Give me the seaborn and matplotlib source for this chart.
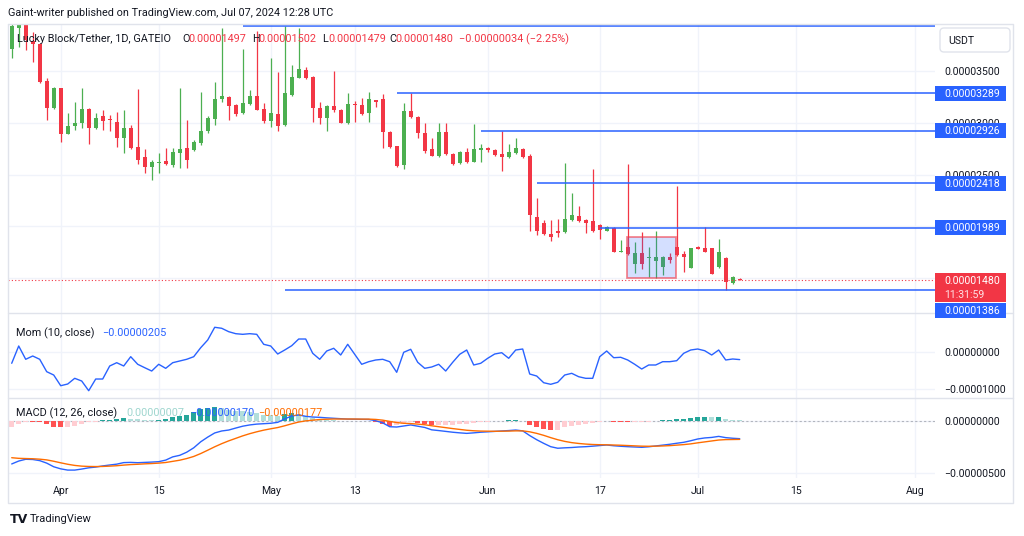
import numpy as np
import pandas as pd
import matplotlib
matplotlib.use("Agg")
import matplotlib.pyplot as plt
import matplotlib.dates as mdates
from matplotlib.patches import Rectangle, FancyBboxPatch
from matplotlib.ticker import FuncFormatter, FixedLocator
import seaborn as sns

# ---------------- data (prices and indicator values in units of 1e-8 USDT) ----------------
UNIT = 1e-8
first_day = "2024-03-25"

opens = [3714, 3917, 3950, 3791, 3762, 3405, 3144, 3337, 2893, 2970,
         2999, 3134, 2951, 3067, 3038, 3009, 2854, 2951, 2767, 2671,
         2574, 2613, 2632, 2593, 2709, 2758, 2738, 2806, 2922, 3038,
         3231, 3250, 3173, 3096, 3183, 3260, 3134, 3018, 3086, 2980,
         3270, 3434, 3511, 3444, 3144, 3047, 3163, 3125, 2999, 3183,
         3173, 3096, 3221, 3231, 2912, 2777, 2593, 3115, 3057, 2903,
         2748, 2680, 2912, 2700, 2613, 2719, 2622, 2738, 2758, 2738,
         2700, 2671, 2709, 2748, 2680, 2091, 2033, 1927, 1956, 1946,
         2062, 2101, 2062, 2053, 2014, 1956, 1985, 1753, 1801, 1637,
         1743, 1695, 1666, 1608, 1705, 1801, 1734, 1598, 1801, 1792,
         1792, 1608, 1695, 1454, 1497]
highs = [3990, 3990, 3975, 3878, 3772, 3434, 3347, 3337, 3096, 3202,
         3337, 3144, 3096, 3125, 3076, 3105, 3125, 2980, 3328, 2748,
         2642, 2709, 2758, 2758, 3337, 3028, 2835, 3299, 3067, 3395,
         3917, 3260, 3183, 3714, 3318, 3888, 3192, 3627, 3492, 3936,
         3559, 3917, 3540, 3453, 3202, 3173, 3501, 3134, 3289, 3212,
         3241, 3299, 3225, 3279, 2922, 2777, 3192, 3289, 3067, 2999,
         2854, 2999, 2999, 2709, 2729, 2758, 2990, 2796, 2770, 2748,
         2926, 2796, 2854, 2758, 2700, 2275, 2062, 2062, 2072, 2613,
         2323, 2197, 2072, 2555, 2024, 2004, 1995, 1869, 2603, 1850,
         1946, 1801, 1956, 1714, 1743, 2391, 1763, 1795, 1811, 1995,
         1795, 1879, 1705, 1521, 1502]
lows = [3627, 3733, 3704, 3588, 3386, 3028, 3134, 2816, 2893, 2932,
        2951, 2796, 2941, 2932, 2922, 2770, 2709, 2748, 2603, 2516,
        2449, 2516, 2593, 2574, 2564, 2564, 2729, 2787, 2903, 2980,
        3202, 3028, 3067, 3086, 3173, 3125, 2999, 2961, 2922, 2970,
        3260, 3434, 3424, 3009, 2990, 2922, 3105, 2995, 2990, 3009,
        3076, 3009, 3154, 2758, 2762, 2574, 2555, 3050, 2854, 2709,
        2676, 2671, 2690, 2593, 2603, 2613, 2622, 2622, 2722, 2680,
        2536, 2661, 2700, 2661, 1956, 1917, 1917, 1859, 1898, 1937,
        2053, 2043, 1937, 1946, 1879, 1956, 1750, 1750, 1724, 1550,
        1589, 1512, 1502, 1531, 1647, 1714, 1560, 1595, 1780, 1750,
        1538, 1598, 1386, 1444, 1479]
closes = [3935, 3946, 3801, 3762, 3395, 3144, 3337, 2893, 2970, 3002,
          3134, 2951, 3047, 3018, 3028, 2854, 2951, 2758, 2642, 2574,
          2622, 2622, 2603, 2719, 2748, 2642, 2818, 2922, 3047, 3231,
          3260, 3163, 3086, 3192, 3260, 3125, 3018, 3096, 2970, 3289,
          3444, 3521, 3434, 3144, 3047, 3163, 3125, 2999, 3183, 3173,
          3086, 3231, 3206, 2912, 2767, 2584, 3115, 3057, 2903, 2729,
          2680, 2912, 2700, 2603, 2719, 2622, 2748, 2758, 2738, 2690,
          2671, 2719, 2758, 2671, 2110, 1956, 1927, 1898, 1937, 2072,
          2110, 2053, 2033, 1956, 1966, 1995, 1753, 1763, 1734, 1743,
          1637, 1705, 1705, 1705, 1676, 1724, 1705, 1792, 1782, 1753,
          1541, 1753, 1463, 1512, 1480]
mom = [-305, 162, -197, -108, -197, -532, -622, -911, -865, -711,
       -784, -1046, -730, -730, -378, -289, -378, -127, -332, -424,
       -514, -332, -441, -289, -243, -197, -127, 116, 324, 668,
       641, 549, 495, 478, 495, 478, 208, 162, -54, 54,
       170, 351, 351, -35, -197, 27, 100, -81, 208, -62,
       -332, -262, -216, -197, -262, -549, -8, 73, -278, -441,
       -405, -332, -514, -278, -62, 54, -351, -305, -170, -54,
       -19, -170, 54, 81, -595, -649, -830, -873, -819, -622,
       -576, -668, -711, -711, -127, 27, -154, -143, -216, -332,
       -460, -351, -351, -262, -262, -235, -35, 54, 81, 35,
       -81, 54, -216, -189, -205]
macd = [-413, -385, -368, -370, -381, -405, -440, -460, -472, -472,
        -462, -450, -443, -432, -423, -415, -400, -398, -401, -398,
        -395, -391, -376, -345, -330, -300, -258, -200, -155, -115,
        -96, -87, -68, -50, -38, -30, -26, -22, -13, 20,
        48, 58, 45, 38, 35, 30, 26, 22, 18, 17,
        16, 15, 3, -18, -55, -58, -48, -38, -50, -62,
        -85, -92, -100, -108, -114, -119, -114, -108, -104, -100,
        -96, -92, -87, -95, -140, -180, -215, -247, -262, -258,
        -255, -250, -247, -242, -236, -231, -238, -243, -247, -250,
        -253, -248, -240, -232, -224, -214, -205, -190, -173, -163,
        -158, -148, -160, -166, -170]
signal = [-353, -359, -361, -363, -367, -374, -387, -402, -416, -427,
          -434, -437, -438, -437, -434, -430, -424, -419, -416, -412,
          -409, -405, -399, -388, -377, -361, -341, -313, -281, -248,
          -218, -191, -167, -143, -122, -104, -88, -75, -63, -46,
          -27, -10, 1, 8, 14, 17, 19, 19, 19, 19,
          18, 18, 15, 8, -4, -15, -22, -25, -30, -36,
          -46, -55, -64, -73, -81, -89, -94, -97, -98, -99,
          -98, -97, -95, -95, -104, -119, -138, -160, -180, -196,
          -208, -216, -222, -226, -228, -229, -231, -233, -236, -239,
          -242, -243, -242, -240, -237, -232, -227, -220, -210, -201,
          -192, -183, -179, -178, -177]

tick_dates = ["2024-04-01", "2024-04-15", "2024-05-01", "2024-05-13", "2024-06-01",
              "2024-06-17", "2024-07-01", "2024-07-15", "2024-08-01"]
tick_labels = ["Apr", "15", "May", "13", "Jun", "17", "Jul", "15", "Aug"]
price_ticks = [1500, 2000, 2500, 3000, 3500]
mom_ticks = [0, -1000]
macd_ticks = [0, -500]

ray_levels = [3940, 3289, 2926, 2418, 1989, 1386]
ray_starts = ["2024-04-27", "2024-05-19", "2024-05-31", "2024-06-08", "2024-06-17", "2024-05-03"]
ray_tags = [None, "0.00003289", "0.00002926", "0.00002418", "0.00001989", "0.00001386"]
rect_start, rect_end = "2024-06-20 20:40", "2024-06-27 21:30"
rect_top, rect_bottom = 1901, 1499
last_price = 1480
countdown = "11:31:59"

header = "Gaint-writer published on TradingView.com, Jul 07, 2024 12:28 UTC"
symbol = "Lucky Block/Tether, 1D, GATEIO"
ohlc_tags = [("O", "0.00001497"), ("H", "0.00001502"), ("L", "0.00001479"), ("C", "0.00001480")]
change_tag = "\u22120.00000034 (\u22122.25%)"

# ---------------- style ----------------
sns.set_theme(style="white")
plt.rcParams["font.family"] = ["Roboto", "DejaVu Sans"]
FS = 7.6
TXT = "#131722"
GREEN, RED = "#4caf50", "#f23645"
BLUE, ORANGE = "#2962ff", "#ff6d00"
GRID, BORDER = "#f0f3fa", "#e0e3eb"

df = pd.DataFrame({"date": pd.date_range(first_day, periods=len(closes), freq="D"),
                   "open": opens, "high": highs, "low": lows, "close": closes,
                   "mom": mom, "macd": macd, "signal": signal})
for c in ["open", "high", "low", "close", "mom", "macd", "signal"]:
    df[c] = df[c] * UNIT
df["x"] = mdates.date2num(df["date"])
df["hist"] = df["macd"] - df["signal"]

W, H = 1024, 536
fig = plt.figure(figsize=(W / 100, H / 100), dpi=100)
fig.patch.set_facecolor("white")


def px_axes(x0, y0, x1, y1):
    return fig.add_axes([x0 / W, 1 - y1 / H, (x1 - x0) / W, (y1 - y0) / H])


ax_p = px_axes(8, 24, 935, 313)
ax_m = px_axes(8, 313, 935, 398)
ax_d = px_axes(8, 398, 935, 478)

apr1 = mdates.date2num(pd.Timestamp("2024-04-01"))
xl, xr = apr1 - 7.53, apr1 + 124.9
tick_x = mdates.date2num(pd.to_datetime(tick_dates))


def fmt(v, pos=None):
    s = f"{abs(v):.8f}"
    return ("\u2212" + s) if v < -1e-14 else s


for ax in (ax_p, ax_m, ax_d):
    ax.set_xlim(xl, xr)
    ax.set_facecolor("white")
    for sp in ax.spines.values():
        sp.set_visible(False)
    ax.xaxis.set_major_locator(FixedLocator(tick_x))
    ax.grid(True, color=GRID, lw=1)
    ax.set_axisbelow(True)
    ax.yaxis.tick_right()
    ax.yaxis.set_major_formatter(FuncFormatter(fmt))
    ax.tick_params(axis="y", length=0, pad=6.5, labelsize=FS, labelcolor=TXT)
    ax.tick_params(axis="x", length=0, labelbottom=False)
    ax.set_xlabel("")
    ax.set_ylabel("")

ax_p.set_ylim(1163.8 * UNIT, 3955.6 * UNIT)
ax_p.yaxis.set_major_locator(FixedLocator([v * UNIT for v in price_ticks]))
ax_m.set_ylim(-1.243e-5, 1.054e-5)
ax_m.yaxis.set_major_locator(FixedLocator([v * UNIT for v in mom_ticks]))
ax_d.set_ylim(-5.48e-6, 2.21e-6)
ax_d.yaxis.set_major_locator(FixedLocator([v * UNIT for v in macd_ticks]))
ax_d.set_xticks(tick_x)
ax_d.set_xticklabels(tick_labels)
ax_d.tick_params(axis="x", labelbottom=True, pad=5.5, labelsize=FS, labelcolor=TXT)

# ---------------- candles ----------------
up = (df["close"] >= df["open"]).values
cols = np.where(up, GREEN, RED)
ax_p.vlines(df["x"], df["low"], df["high"], colors=cols, lw=0.9, zorder=2)
raw_h = (df["close"] - df["open"]).abs()
body_h = np.maximum(raw_h, 9 * UNIT)
body_b = np.minimum(df["open"], df["close"]) - (body_h - raw_h) / 2
ax_p.bar(df["x"], body_h, bottom=body_b, width=0.62, color=cols, linewidth=0, zorder=3)

# drawings
for lvl, st in zip(ray_levels, ray_starts):
    ax_p.hlines(lvl * UNIT, mdates.date2num(pd.Timestamp(st)), xr, color=BLUE, lw=1.1, zorder=4)
rs, re_ = mdates.date2num(pd.Timestamp(rect_start)), mdates.date2num(pd.Timestamp(rect_end))
ax_p.add_patch(Rectangle((rs, rect_bottom * UNIT), re_ - rs, (rect_top - rect_bottom) * UNIT,
                         facecolor=(0.16, 0.38, 1.0, 0.2), edgecolor=(0.95, 0.21, 0.27, 0.6),
                         lw=1.3, zorder=4))
ax_p.axhline(last_price * UNIT, color=RED, lw=0.8, ls=(0, (1, 2)), zorder=4)

# ---------------- momentum ----------------
sns.lineplot(data=df, x="x", y="mom", ax=ax_m, color=BLUE, lw=1.0, legend=False)
ax_m.set_xlabel(""); ax_m.set_ylabel("")

# ---------------- MACD ----------------
hist = df["hist"].values
prev = np.concatenate([[hist[0]], hist[:-1]])
hcols = np.where(hist >= 0, np.where(hist > prev, "#26a69a", "#b2dfdb"),
                 np.where(hist < prev, "#ff5252", "#ffcdd2"))
ax_d.bar(df["x"], hist, width=0.75, color=hcols, linewidth=0, zorder=2)
ax_d.axhline(0, color="#b2b5be", lw=0.8, ls=(0, (2, 2)), zorder=1)
sns.lineplot(data=df, x="x", y="macd", ax=ax_d, color=BLUE, lw=1.0, legend=False)
sns.lineplot(data=df, x="x", y="signal", ax=ax_d, color=ORANGE, lw=1.0, legend=False)
ax_d.set_xlabel(""); ax_d.set_ylabel("")
ax_d.set_xticks(tick_x)
ax_d.set_xticklabels(tick_labels)
ax_d.tick_params(axis="x", labelbottom=True, pad=5.5, labelsize=FS, labelcolor=TXT, length=0)

# ---------------- overlay (texts, frames, price tags) ----------------
ov = fig.add_axes([0, 0, 1, 1], zorder=10)
ov.set_xlim(0, W); ov.set_ylim(H, 0); ov.axis("off")

ov.plot([8, 1013, 1013, 8, 8], [24, 24, 503, 503, 24], color=BORDER, lw=1)
ov.plot([8, 1013], [313, 313], color=BORDER, lw=1)
ov.plot([8, 1013], [398, 398], color=BORDER, lw=1)

ov.text(8, 13, header, fontsize=FS + 0.2, color=TXT, va="center", ha="left")
ov.text(17, 39, symbol, fontsize=FS + 0.2, color=TXT, va="center", ha="left")
xs = [182, 252, 322, 389]
for (k, v), x0 in zip(ohlc_tags, xs):
    ov.text(x0, 39, k, fontsize=FS + 0.2, color=TXT, va="center", ha="left")
    ov.text(x0 + 6.5, 39, v, fontsize=FS + 0.2, color=RED, va="center", ha="left")
ov.text(459, 39, change_tag, fontsize=FS + 0.2, color=RED, va="center", ha="left")

ov.text(16, 333, "Mom (10, close)", fontsize=FS + 0.2, color=TXT, va="center")
ov.text(102, 333, fmt(df["mom"].iloc[-1]), fontsize=FS + 0.2, color=BLUE, va="center")
ov.text(16, 413, "MACD (12, 26, close)", fontsize=FS + 0.2, color=TXT, va="center")
ov.text(126, 413, fmt(round(df["hist"].iloc[-1], 10)), fontsize=FS + 0.2, color="#9fd6cf", va="center")
ov.text(190, 413, fmt(df["macd"].iloc[-1]), fontsize=FS + 0.2, color=BLUE, va="center")
ov.text(258, 413, fmt(df["signal"].iloc[-1]), fontsize=FS + 0.2, color=ORANGE, va="center")


def ypx(ax, val):
    return H - ax.transData.transform((xl, val))[1]


for lvl, tag in zip(ray_levels, ray_tags):
    if tag is None:
        continue
    yc = ypx(ax_p, lvl * UNIT)
    if lvl == 1386:
        yc = ypx(ax_p, last_price * UNIT) + 30
    ov.add_patch(Rectangle((935, yc - 7.5), 71, 15, facecolor=BLUE, edgecolor="none", zorder=5))
    ov.text(944, yc + 0.5, tag, fontsize=FS, color="white", va="center", ha="left", zorder=6)

yl = ypx(ax_p, last_price * UNIT)
ov.add_patch(Rectangle((935, yl - 7), 71, 29, facecolor=RED, edgecolor="none", zorder=5))
ov.text(944, yl + 0.5, fmt(last_price * UNIT), fontsize=FS, color="white", va="center", zorder=6)
ov.text(944, yl + 14.5, countdown, fontsize=FS, color="#ffe0e3", va="center", zorder=6)

ov.add_patch(FancyBboxPatch((940, 28), 70, 24, boxstyle="round,pad=0,rounding_size=4",
                            facecolor="white", edgecolor=BORDER, lw=1, zorder=5))
ov.text(948, 40.5, "USDT", fontsize=FS, color=TXT, va="center", zorder=6)

ov.text(10, 519.5, "TV", fontsize=9, fontweight="bold", color=TXT, va="center", family="DejaVu Sans")
ov.text(30, 519.5, "TradingView", fontsize=FS + 0.4, color=TXT, va="center")

fig.savefig("out.png", dpi=100, facecolor="white")
